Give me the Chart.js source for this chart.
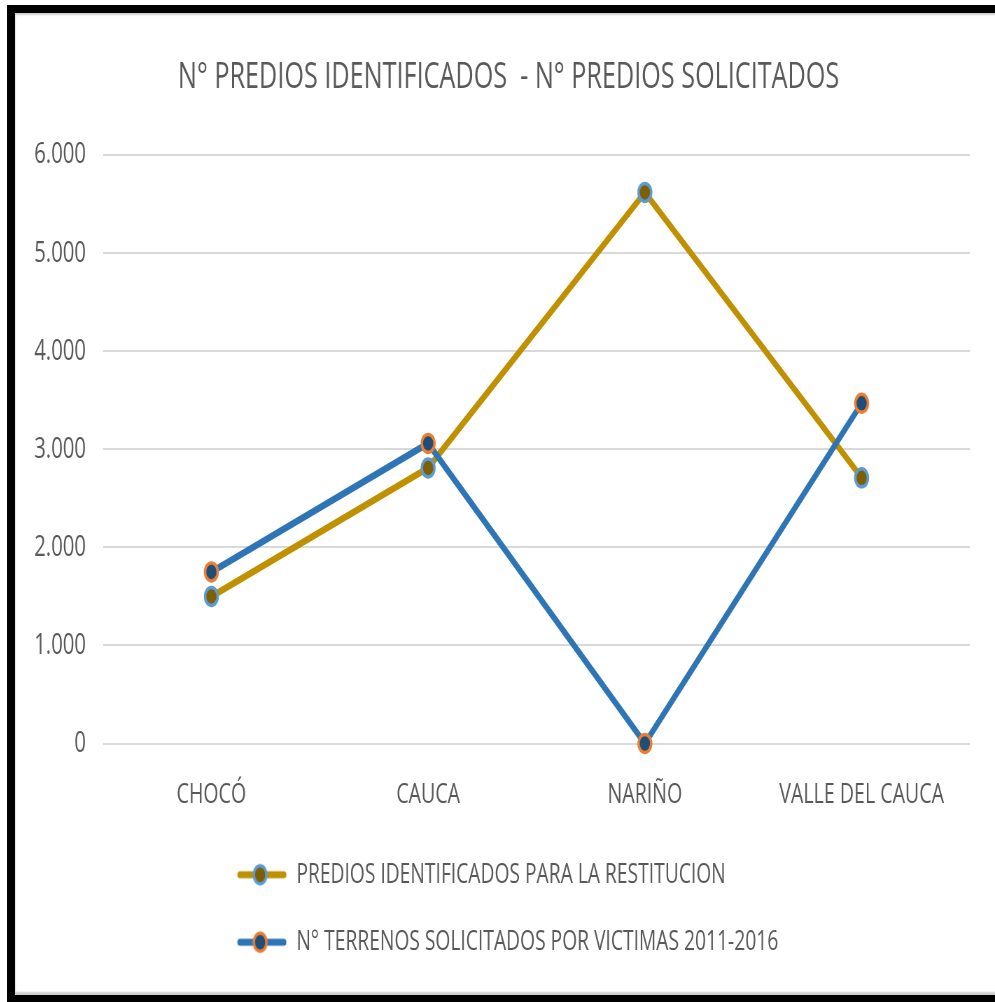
<!DOCTYPE html>
<html>
<head>
<meta charset="utf-8">
<script src="https://cdn.jsdelivr.net/npm/chart.js@4.4.1/dist/chart.umd.min.js"></script>
<style>
  html, body { margin: 0; padding: 0; background: #fff; overflow: hidden; }
  #frame {
    position: absolute; left: 7px; top: 5px;
    width: 1010px; height: 982px;
    border: 8px solid #000;
    box-shadow: inset 0 2px 2px #cfcfcf, inset 0 -3px 2px #cfcfcf;
    overflow: hidden;
  }
  #myChart {
    position: absolute; left: 0; top: 0;
    width: 1400px; height: 982px;
    transform: scaleX(0.7); transform-origin: 0 0;
  }
</style>
</head>
<body>
<div id="frame"><canvas id="myChart" width="1400" height="982"></canvas></div>
<script>
const categories = ['CHOCÓ', 'CAUCA', 'NARIÑO', 'VALLE DEL CAUCA'];
const prediosIdentificados = [1500, 2810, 5620, 2710];
const terrenosSolicitados = [1750, 3060, 0, 3470];
const yTicks = [0, 1000, 2000, 3000, 4000, 5000, 6000];

const S = 0.7; // the picture is squeezed horizontally
const textColor = '#595959';
const font = 'Open Sans';

// legend swatch: a short line with the marker on it
function swatch(lineColor, fill, border) {
  const c = document.createElement('canvas');
  c.width = 71; c.height = 30;
  const ctx = c.getContext('2d');
  ctx.strokeStyle = lineColor;
  ctx.lineWidth = 7;
  ctx.lineCap = 'round';
  ctx.beginPath(); ctx.moveTo(4, 15); ctx.lineTo(67, 15); ctx.stroke();
  ctx.beginPath(); ctx.arc(33, 15, 9, 0, Math.PI * 2);
  ctx.fillStyle = fill; ctx.fill();
  ctx.lineWidth = 3.5; ctx.strokeStyle = border; ctx.stroke();
  return c;
}

const data = {
  labels: categories,
  datasets: [
    {
      label: 'PREDIOS IDENTIFICADOS PARA LA RESTITUCION',
      data: prediosIdentificados,
      borderColor: '#bf9000',
      backgroundColor: '#bf9000',
      pointBackgroundColor: '#7f6000',
      pointBorderColor: '#5b9bd5',
      order: 1,
      swatch: swatch('#bf9000', '#7f6000', '#5b9bd5'),
    },
    {
      label: 'N° TERRENOS SOLICITADOS POR VICTIMAS 2011-2016',
      data: terrenosSolicitados,
      borderColor: '#2e75b6',
      backgroundColor: '#2e75b6',
      pointBackgroundColor: '#1f4e79',
      pointBorderColor: '#ed7d31',
      order: 0,
      swatch: swatch('#2e75b6', '#1f4e79', '#ed7d31'),
    },
  ],
};

// move legend block and title sideways to where they sit in the picture
const shiftBoxes = {
  id: 'shiftBoxes',
  beforeDraw(chart) {
    const lg = chart.legend;
    const w = lg.right - lg.left;
    lg.left = 222 / S - 40;
    lg.right = lg.left + w;
    const t = chart.titleBlock;
    t.left += 23;
    t.right += 23;
  },
};

const config = {
  type: 'line',
  data: data,
  options: {
    responsive: false,
    animation: false,
    devicePixelRatio: 1,
    layout: { padding: { top: 0, left: 0, right: 25 / S, bottom: 29 } },
    elements: {
      line: { borderWidth: 7, tension: 0 },
      point: { radius: 9, borderWidth: 3.5, hoverRadius: 9 },
    },
    datasets: { line: { clip: false } },
    plugins: {
      title: {
        display: true,
        text: 'N° PREDIOS IDENTIFICADOS  - N° PREDIOS SOLICITADOS',
        color: textColor,
        font: { family: font, size: 36, weight: 'normal' },
        padding: { top: 43, bottom: 56 },
      },
      legend: {
        position: 'bottom',
        align: 'start',
        labels: {
          color: textColor,
          font: { family: font, size: 27.5 },
          padding: 40,
          usePointStyle: true,
          pointStyleWidth: 71,
          generateLabels(chart) {
            return chart.data.datasets.map((ds, i) => ({
              text: ds.label,
              pointStyle: ds.swatch,
              fillStyle: ds.borderColor,
              strokeStyle: ds.borderColor,
              fontColor: textColor,
              datasetIndex: i,
              hidden: false,
            }));
          },
        },
      },
      tooltip: { enabled: false },
    },
    scales: {
      x: {
        offset: true,
        grid: { display: false },
        border: { display: false },
        ticks: { color: textColor, font: { family: font, size: 28 }, padding: 27 },
        afterFit(scale) { scale.height = 77.5; },
      },
      y: {
        min: 0,
        max: 6000,
        grid: { color: '#d9d9d9', lineWidth: 2, drawTicks: false },
        border: { display: false },
        afterBuildTicks(scale) { scale.ticks = yTicks.map(v => ({ value: v })); },
        afterFit(scale) { scale.width = 88 / S; },
        ticks: {
          color: textColor,
          font: { family: font, size: 29 },
          padding: 17 / S,
          callback: v => v.toString().replace(/\B(?=(\d{3})+(?!\d))/g, '.'),
        },
      },
    },
  },
  plugins: [shiftBoxes],
};

const myChart = new Chart(document.getElementById('myChart'), config);
</script>
</body>
</html>
